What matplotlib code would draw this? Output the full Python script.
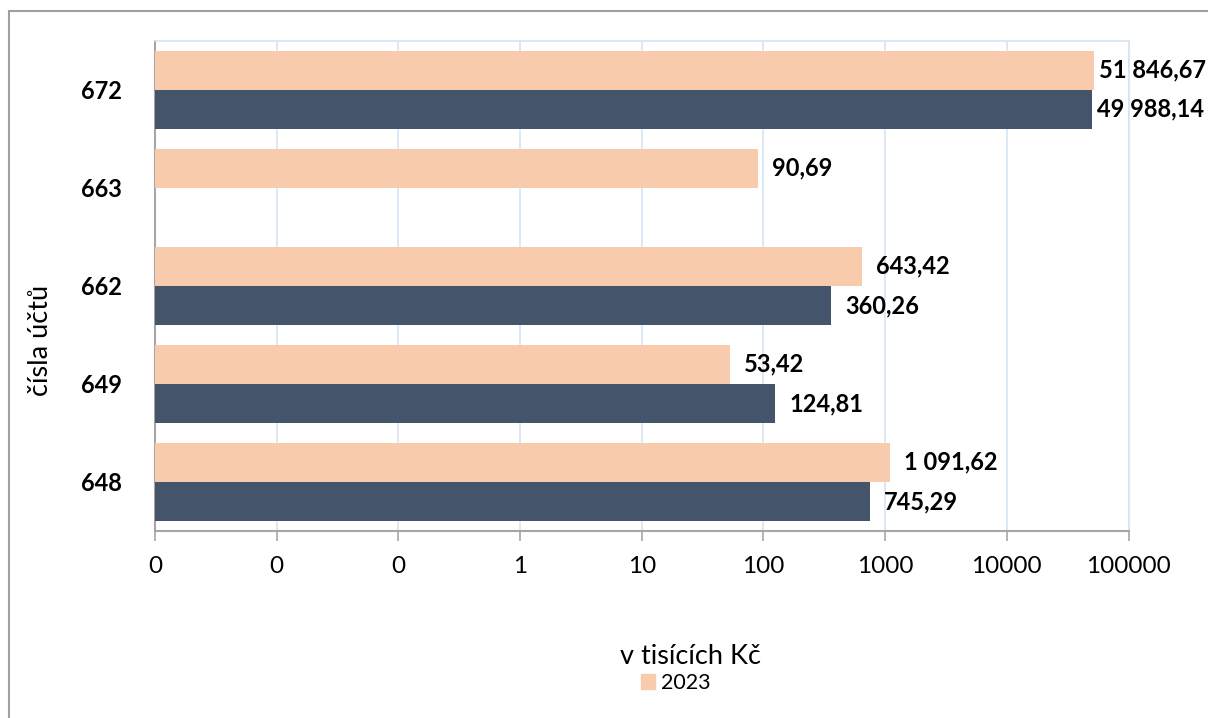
import numpy as np
import matplotlib
matplotlib.use("Agg")
import matplotlib.pyplot as plt
from matplotlib.patches import Rectangle, Patch
from matplotlib.ticker import FixedLocator, FixedFormatter, NullLocator

# ---------------------------------------------------------------------------
# Data (bottom to top)
# ---------------------------------------------------------------------------
accounts = ["648", "649", "662", "663", "672"]
val_2023 = [1091.62, 53.42, 643.42, 90.69, 51846.67]
val_2022 = [745.29, 124.81, 360.26, np.nan, 49988.14]
labels_2023 = ["1 091,62", "53,42", "643,42", "90,69", "51 846,67"]
labels_2022 = ["745,29", "124,81", "360,26", "", "49 988,14"]

tick_values = [0.001, 0.01, 0.1, 1, 10, 100, 1000, 10000, 100000]
tick_labels = ["0", "0", "0", "1", "10", "100", "1000", "10000", "100000"]

C_2023 = "#F8CBAD"
C_2022 = "#44546A"
GRID = "#D6E4F4"
AXIS = "#A6A6A6"

plt.rcParams["font.family"] = ["Lato", "DejaVu Sans"]

W, H = 1208, 718
fig = plt.figure(figsize=(W / 100, H / 100), dpi=100)
ax = fig.add_axes([155 / W, 1 - 531 / H, (1128.5 - 155) / W, (531 - 40.7) / H])

y = np.arange(len(accounts))
bh = 0.4

ax.barh(y + bh / 2, val_2023, height=bh, color=C_2023, zorder=3)
mask = ~np.isnan(np.array(val_2022, dtype=float))
ax.barh(y[mask] - bh / 2, np.array(val_2022)[mask], height=bh, color=C_2022, zorder=3)


def bar_label(value, ypos, text):
    # labels near the right edge get squeezed in a bit, as in the original
    off = 4 if value > 10000 else 10
    ax.annotate(text, (value, ypos), xytext=(off, 0), textcoords="offset points",
                va="center", ha="left", fontsize=17, fontweight="bold",
                annotation_clip=False)


for i in range(len(accounts)):
    bar_label(val_2023[i], y[i] + bh / 2, labels_2023[i])
    if mask[i]:
        bar_label(val_2022[i], y[i] - bh / 2, labels_2022[i])

ax.set_xscale("log")
ax.set_xlim(tick_values[0], tick_values[-1])
ax.set_ylim(-0.5, len(accounts) - 0.5)
ax.xaxis.set_major_locator(FixedLocator(tick_values))
ax.xaxis.set_major_formatter(FixedFormatter(tick_labels))
ax.xaxis.set_minor_locator(NullLocator())
ax.set_yticks(y)
ax.set_yticklabels(accounts, fontweight="bold")

ax.grid(axis="x", color=GRID, linewidth=1.2, zorder=0)
ax.tick_params(axis="x", length=7, width=1.2, color=AXIS, pad=11, labelsize=17.5)
ax.tick_params(axis="y", length=0, pad=24, labelsize=17)

for s in ["left", "bottom"]:
    ax.spines[s].set_color(AXIS)
    ax.spines[s].set_linewidth(1.5)
for s in ["top", "right"]:
    ax.spines[s].set_color(GRID)
    ax.spines[s].set_linewidth(1.2)

fig.text(41 / W, 1 - 340 / H, "čísla účtů", rotation=90, ha="center", va="center", fontsize=19.5)
fig.text(690 / W, 1 - 657 / H, "v tisících Kč", ha="center", va="center", fontsize=19.5)

fig.legend(handles=[Patch(color=C_2023, label="2023")], loc="center",
           bbox_to_anchor=(676 / W, 1 - 683 / H), frameon=False, fontsize=15.5,
           handlelength=0.65, handleheight=0.65, handletextpad=0.3, borderpad=0)

fig.patches.append(Rectangle((9 / W, -0.05), 1.1, 1.05 - 11 / H, transform=fig.transFigure,
                             fill=False, edgecolor="#A0A0A0", linewidth=1.5))

fig.savefig("out.png", dpi=100)
